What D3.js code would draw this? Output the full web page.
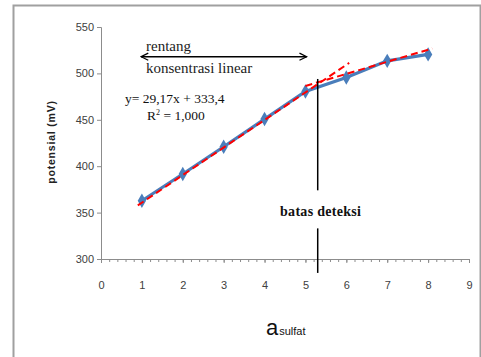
<!DOCTYPE html>
<html>
<head>
<meta charset="utf-8">
<script src="https://cdn.jsdelivr.net/npm/d3@7"></script>
<style>
  body { margin: 0; background: #fff; }
  svg { display: block; }
</style>
</head>
<body>
<div id="chart"></div>
<script>
// Potential vs sulfate activity, with linear range and detection limit

var activity = [1, 2, 3, 4, 5, 6, 7, 8];
var potential = [362.8, 391.6, 421.0, 450.8, 480.5, 495.5, 513.5, 520.5];

// trend lines: slope, intercept, x range
var trendSlope = [29.7, 13.0];
var trendIntercept = [331.0, 421.5];
var trendFrom = [0.9, 5.0];
var trendTo = [6.07, 8.1];

var yTicks = [300, 350, 400, 450, 500, 550];
var xTicks = [0, 1, 2, 3, 4, 5, 6, 7, 8, 9];

var detectionX = 5.3;
var arrowY = 518;
var arrowFrom = 0.98;
var arrowTo = 5.03;

var width = 481, height = 357;

var svg = d3.select("#chart").append("svg")
    .attr("width", width)
    .attr("height", height);

// outer frame
svg.append("rect")
    .attr("x", 13.5).attr("y", 5.5)
    .attr("width", 467).attr("height", 400)
    .attr("fill", "none")
    .attr("stroke", "#a0a0a0")
    .attr("stroke-width", 2);

var xScale = d3.scaleLinear().domain([0, 9]).range([101, 469]);
var yScale = d3.scaleLinear().domain([300, 550]).range([259, 27]);

// axes
var yAxis = d3.axisLeft(yScale).tickValues(yTicks).tickSize(4).tickPadding(3);
var yg = svg.append("g").attr("transform", "translate(101,0)").call(yAxis);
yg.select(".domain").attr("stroke", "#8c8c8c");
yg.selectAll(".tick line").attr("stroke", "#8c8c8c");
yg.selectAll(".tick text")
    .attr("fill", "#404040")
    .style("font-family", "'Liberation Sans', Arial, sans-serif")
    .style("font-size", "11px");

var minor = d3.range(0, 45).map(function(i) { return i * 0.2; });
var xMinor = d3.axisBottom(xScale).tickValues(minor).tickSize(3).tickFormat("");
var xgm = svg.append("g").attr("transform", "translate(0,259)").call(xMinor);
xgm.select(".domain").attr("stroke", "#8c8c8c");
xgm.selectAll(".tick line").attr("stroke", "#8c8c8c");

var xAxis = d3.axisBottom(xScale).tickValues(xTicks).tickSize(4).tickPadding(18);
var xg = svg.append("g").attr("transform", "translate(0,259)").call(xAxis);
xg.select(".domain").remove();
xg.selectAll(".tick line").attr("stroke", "#8c8c8c");
xg.selectAll(".tick text")
    .attr("fill", "#404040")
    .style("font-family", "'Liberation Sans', Arial, sans-serif")
    .style("font-size", "11px");

// y axis title
svg.append("text")
    .attr("transform", "translate(55,142) rotate(-90)")
    .attr("text-anchor", "middle")
    .style("font-family", "'Liberation Sans', Arial, sans-serif")
    .style("font-size", "10.5px")
    .style("font-weight", "bold")
    .style("letter-spacing", "0.8px")
    .attr("fill", "#222")
    .text("potensial (mV)");

// x axis title
var xt = svg.append("text")
    .attr("x", 266).attr("y", 335)
    .style("font-family", "'Liberation Sans', Arial, sans-serif")
    .attr("fill", "#111");
xt.append("tspan").style("font-size", "22px").text("a");
xt.append("tspan").style("font-size", "11px").attr("dx", 1).text("sulfat");

// measured line
var pts = activity.map(function(d, i) { return [d, potential[i]]; });
var line = d3.line()
    .x(function(d) { return xScale(d[0]); })
    .y(function(d) { return yScale(d[1]); });

svg.append("path")
    .datum(pts)
    .attr("d", line)
    .attr("fill", "none")
    .attr("stroke", "#4a7ebb")
    .attr("stroke-width", 3.2);

svg.selectAll(".pt")
    .data(pts)
  .enter().append("path")
    .attr("class", "pt")
    .attr("transform", function(d) { return "translate(" + xScale(d[0]) + "," + yScale(d[1]) + ")"; })
    .attr("d", d3.symbol().type(d3.symbolDiamond).size(60))
    .attr("fill", "#4a7ebb");

// trend lines
trendSlope.forEach(function(m, i) {
    var seg = [trendFrom[i], trendTo[i]].map(function(x) { return [x, m * x + trendIntercept[i]]; });
    svg.append("path")
        .datum(seg)
        .attr("d", line)
        .attr("fill", "none")
        .attr("stroke", "#ff0000")
        .attr("stroke-width", 2)
        .attr("stroke-dasharray", "7,4");
});

// detection limit
var dx = xScale(detectionX);
svg.append("line")
    .attr("x1", dx).attr("x2", dx)
    .attr("y1", yScale(494)).attr("y2", yScale(374))
    .attr("stroke", "#000").attr("stroke-width", 1.5);
svg.append("line")
    .attr("x1", dx).attr("x2", dx)
    .attr("y1", yScale(333)).attr("y2", yScale(285))
    .attr("stroke", "#000").attr("stroke-width", 1.5);
svg.append("text")
    .attr("x", 280).attr("y", 216)
    .style("font-family", "'Liberation Serif', 'Times New Roman', serif")
    .style("font-size", "14px")
    .style("font-weight", "bold")
    .style("letter-spacing", "0.3px")
    .attr("fill", "#111")
    .text("batas deteksi");

// linear range arrow
svg.append("defs").selectAll("marker")
    .data(["start", "end"])
  .enter().append("marker")
    .attr("id", function(d) { return "arr-" + d; })
    .attr("viewBox", "0 0 10 10")
    .attr("refX", 9).attr("refY", 5)
    .attr("markerWidth", 9).attr("markerHeight", 9)
    .attr("markerUnits", "userSpaceOnUse")
    .attr("orient", "auto-start-reverse")
  .append("path")
    .attr("d", "M1,1 L9,5 L1,9")
    .attr("fill", "none")
    .attr("stroke", "#000")
    .attr("stroke-width", 1.4);

svg.append("line")
    .attr("x1", xScale(arrowFrom)).attr("x2", xScale(arrowTo))
    .attr("y1", yScale(arrowY)).attr("y2", yScale(arrowY))
    .attr("stroke", "#000").attr("stroke-width", 1.5)
    .attr("marker-start", "url(#arr-start)")
    .attr("marker-end", "url(#arr-end)");

var serif = "'Liberation Serif', 'Times New Roman', serif";
svg.append("text").attr("x", 146).attr("y", 51)
    .style("font-family", serif).style("font-size", "15px").attr("fill", "#222")
    .text("rentang");
svg.append("text").attr("x", 146).attr("y", 73)
    .style("font-family", serif).style("font-size", "15px").attr("fill", "#222")
    .text("konsentrasi linear");
svg.append("text").attr("x", 125).attr("y", 103)
    .style("font-family", serif).style("font-size", "13.5px").attr("fill", "#111")
    .text("y= 29,17x + 333,4");
var r2 = svg.append("text").attr("x", 147).attr("y", 120)
    .style("font-family", serif).style("font-size", "13.5px").attr("fill", "#111");
r2.append("tspan").text("R");
r2.append("tspan").attr("dy", -5).style("font-size", "8px").text("2");
r2.append("tspan").attr("dy", 5).text(" = 1,000");
</script>
</body>
</html>
